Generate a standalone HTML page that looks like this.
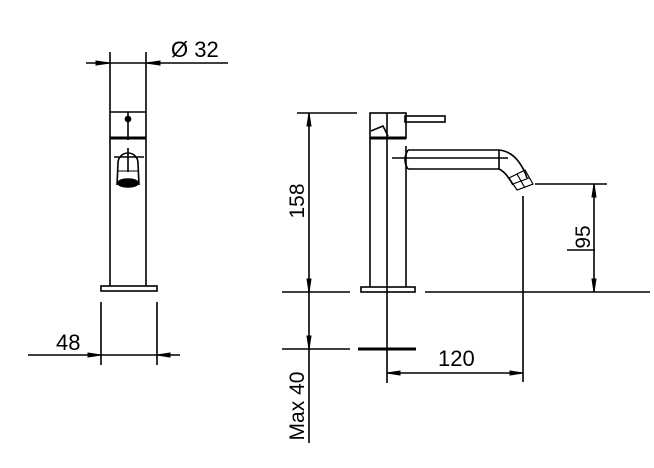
<!DOCTYPE html>
<html><head><style>html,body{margin:0;padding:0;background:#fff;}svg{display:block}</style></head>
<body>
<svg width="654" height="468" viewBox="0 0 654 468" xmlns="http://www.w3.org/2000/svg" font-family="Liberation Sans, sans-serif" fill="none" stroke="#000" stroke-width="1.6">
<!-- Left view -->
<line x1="110" y1="52" x2="110" y2="286"/>
<line x1="146" y1="52" x2="146" y2="286"/>
<line x1="86" y1="63" x2="228" y2="63"/>
<path d="M96 61 L110 63 L96 65 Z M160 61 L146 63 L160 65 Z" fill="#000" stroke-width="1"/>
<text x="171" y="57" font-size="22" fill="#000" stroke="none">Ø 32</text>
<line x1="110" y1="112" x2="146" y2="112"/>
<line x1="110" y1="138" x2="146" y2="138" stroke-width="3"/>
<line x1="128" y1="112" x2="128" y2="140"/>
<circle cx="128" cy="119" r="2.5" fill="#000"/>
<path d="M118 163 A10 10 0 0 1 138 163 M114 157 L144 157 M128 148 L128 172 M118 163 L117 185 M138 163 L139 185"/>
<ellipse cx="128" cy="183" rx="10" ry="4" fill="#000"/>
<line x1="118" y1="171" x2="138" y2="171" stroke-width="1"/>
<rect x="101" y="286" width="56" height="5"/>
<line x1="101" y1="302" x2="101" y2="365"/>
<line x1="157" y1="302" x2="157" y2="365"/>
<line x1="28" y1="355" x2="180" y2="355"/>
<path d="M88 353 L101 355 L88 357 Z M170 353 L157 355 L170 357 Z" fill="#000" stroke-width="1"/>
<text x="56" y="350" font-size="22" fill="#000" stroke="none">48</text>
<!-- Right view -->
<line x1="297" y1="113" x2="357" y2="113"/>
<line x1="309" y1="113" x2="309" y2="443"/>
<path d="M307 126 L309 113 L311 126 Z M307 279 L309 292 L311 279 Z M307 336 L309 349 L311 336 Z" fill="#000" stroke-width="1"/>
<text transform="translate(304,201) rotate(-90)" font-size="21" fill="#000" stroke="none" text-anchor="middle">158</text>
<text transform="translate(304,406) rotate(-90)" font-size="21" fill="#000" stroke="none" text-anchor="middle">Max 40</text>
<rect x="370" y="113" width="36" height="25"/>
<line x1="370" y1="138" x2="406" y2="138" stroke-width="3"/>
<path d="M371 131 L383 126 L388 136"/>
<line x1="370" y1="138" x2="370" y2="287"/>
<line x1="406" y1="146" x2="406" y2="287"/>
<line x1="387" y1="113" x2="387" y2="383"/>
<rect x="405" y="116" width="40" height="6"/>
<path d="M408 150 L499 150 Q518 152 527 178 M408 169 L499 169 Q506 172 513 185 M408 150 Q402 160 408 169"/>
<line x1="392" y1="158" x2="508" y2="158"/>
<line x1="499" y1="150" x2="499" y2="169"/>
<path d="M509 178 L525 170 L533 184 L517 190 Z M517 174 L525 188 M513 184 L529 178" stroke-width="1.2"/>
<rect x="361" y="287" width="54" height="5"/>
<line x1="282" y1="292" x2="350" y2="292"/>
<line x1="425" y1="292" x2="650" y2="292"/>
<line x1="282" y1="349" x2="350" y2="349"/>
<line x1="358" y1="349" x2="416" y2="349" stroke-width="3"/>
<line x1="535" y1="184" x2="607" y2="184"/>
<line x1="594" y1="184" x2="594" y2="292"/>
<line x1="567" y1="250" x2="595" y2="250"/>
<path d="M592 197 L594 184 L596 197 Z M592 279 L594 292 L596 279 Z" fill="#000" stroke-width="1"/>
<text transform="translate(590,237) rotate(-90)" font-size="21" fill="#000" stroke="none" text-anchor="middle">95</text>
<line x1="523" y1="196" x2="523" y2="382"/>
<line x1="387" y1="373" x2="523" y2="373"/>
<path d="M400 371 L387 373 L400 375 Z M510 371 L523 373 L510 375 Z" fill="#000" stroke-width="1"/>
<text x="438" y="366" font-size="22" fill="#000" stroke="none">120</text>
</svg>
</body></html>
